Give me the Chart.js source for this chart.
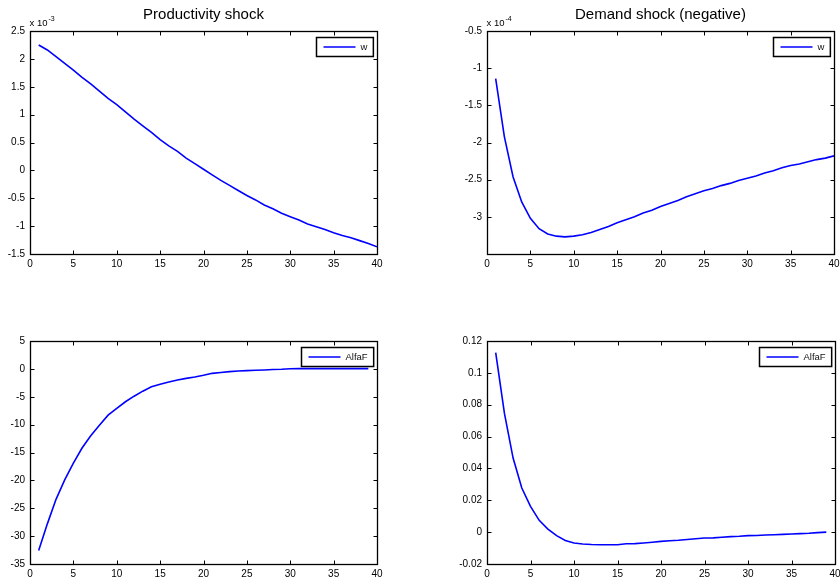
<!DOCTYPE html>
<html>
<head>
<meta charset="utf-8">
<script src="https://cdn.jsdelivr.net/npm/chart.js@4/dist/chart.umd.min.js"></script>
<style>
  html, body { margin: 0; padding: 0; background: #fff; }
  body { width: 840px; height: 581px; position: relative; overflow: hidden; }
  canvas { position: absolute; }
</style>
</head>
<body>
<canvas id="prodW" width="420" height="290" style="left:0;top:0"></canvas>
<canvas id="demW" width="420" height="290" style="left:420px;top:0"></canvas>
<canvas id="prodAlfa" width="420" height="291" style="left:0;top:290px"></canvas>
<canvas id="demAlfa" width="420" height="291" style="left:420px;top:290px"></canvas>
<script>
// periods after the shock
const periods = Array.from({ length: 40 }, (_, i) => i + 1);

// w after a productivity shock (x 10^-3)
const prodW = [
  2.25, 2.16, 2.04, 1.92, 1.80, 1.67, 1.55, 1.42, 1.29, 1.18,
  1.05, 0.92, 0.80, 0.68, 0.55, 0.44, 0.34, 0.22, 0.12, 0.02,
  -0.08, -0.18, -0.27, -0.36, -0.45, -0.53, -0.62, -0.69, -0.77, -0.83,
  -0.89, -0.96, -1.01, -1.06, -1.12, -1.17, -1.21, -1.26, -1.31, -1.37
];

// w after a negative demand shock (x 10^-4)
const demW = [
  -1.14, -1.92, -2.46, -2.80, -3.02, -3.16, -3.23, -3.26, -3.27, -3.26,
  -3.24, -3.21, -3.17, -3.13, -3.08, -3.04, -3.00, -2.95, -2.91, -2.86,
  -2.82, -2.78, -2.73, -2.69, -2.65, -2.62, -2.58, -2.55, -2.51, -2.48,
  -2.45, -2.41, -2.38, -2.34, -2.31, -2.29, -2.26, -2.23, -2.21, -2.18
];

// AlfaF after a productivity shock (39 periods)
const prodAlfa = [
  -32.6, -27.8, -23.4, -19.9, -16.9, -14.2, -12.0, -10.1, -8.3, -7.1,
  -5.9, -4.9, -4.0, -3.2, -2.75, -2.35, -2.0, -1.7, -1.45, -1.15,
  -0.8, -0.65, -0.5, -0.38, -0.32, -0.25, -0.2, -0.12, -0.08, 0.03,
  0.05, 0.05, 0.05, 0.05, 0.05, 0.05, 0.05, 0.05, 0.05
];

// AlfaF after a negative demand shock (39 periods)
const demAlfa = [
  0.1127, 0.0747, 0.0465, 0.0277, 0.0162, 0.0074, 0.0019, -0.0022, -0.0052, -0.0068,
  -0.0074, -0.0078, -0.0079, -0.0079, -0.0079, -0.0073, -0.0072, -0.0068, -0.0063, -0.0058,
  -0.0054, -0.0051, -0.0046, -0.0041, -0.0037, -0.0036, -0.0032, -0.0028, -0.0026, -0.0022,
  -0.0021, -0.0018, -0.0016, -0.0014, -0.0012, -0.0009, -0.0007, -0.0003, 0.0
];

const xTicks = { min: 0, max: 40, step: 5 };

const TICK_FONT = { family: "'Liberation Sans', Arial, sans-serif", size: 10 };

// matlab style frame: box, inward ticks on all sides, exponent and legend
const matlabFrame = {
  id: "matlabFrame",
  afterDraw(chart, args, opts) {
    const { ctx, chartArea: a, scales } = chart;
    const x = scales.x, y = scales.y;
    const L = Math.round(a.left) + 0.5, R = Math.round(a.right) + 0.5;
    const T = Math.round(a.top) + 0.5, B = Math.round(a.bottom) + 0.5;
    ctx.save();
    ctx.strokeStyle = "#000";
    ctx.lineWidth = 1;
    ctx.beginPath();
    x.ticks.forEach(t => {
      const px = Math.round(x.getPixelForValue(t.value)) + 0.5;
      ctx.moveTo(px, B); ctx.lineTo(px, B - 4);
      ctx.moveTo(px, T); ctx.lineTo(px, T + 4);
    });
    y.ticks.forEach(t => {
      const py = Math.round(y.getPixelForValue(t.value)) + 0.5;
      ctx.moveTo(L, py); ctx.lineTo(L + 4, py);
      ctx.moveTo(R, py); ctx.lineTo(R - 4, py);
    });
    ctx.stroke();
    ctx.lineWidth = 1.3;
    ctx.strokeRect(L, T, R - L, B - T);

    // exponent label above the y axis
    if (opts.exponent) {
      ctx.fillStyle = "#000";
      ctx.textBaseline = "alphabetic";
      ctx.font = "9.5px 'Liberation Sans', Arial, sans-serif";
      ctx.fillText("x 10", L - 1, T - 6);
      const w = ctx.measureText("x 10").width;
      ctx.font = "7px 'Liberation Sans', Arial, sans-serif";
      ctx.fillText(opts.exponent, L + w, T - 11);
    }

    // legend box in the top right corner
    const label = chart.data.datasets[0].label;
    ctx.font = "9.5px 'Liberation Sans', Arial, sans-serif";
    const tw = ctx.measureText(label).width;
    const bw = 7 + 32 + 5 + tw + 6, bh = 19;
    const bx = Math.round(a.right - 4 - bw) + 0.5, by = Math.round(a.top + 6) + 0.5;
    ctx.fillStyle = "#fff";
    ctx.fillRect(bx, by, bw, bh);
    ctx.lineWidth = 1.5;
    ctx.strokeStyle = "#000";
    ctx.strokeRect(bx, by, bw, bh);
    ctx.beginPath();
    ctx.strokeStyle = chart.data.datasets[0].borderColor;
    ctx.lineWidth = 1.5;
    ctx.moveTo(bx + 7, by + bh / 2);
    ctx.lineTo(bx + 39, by + bh / 2);
    ctx.stroke();
    ctx.fillStyle = "#111";
    ctx.textBaseline = "middle";
    ctx.fillText(label, bx + 44, by + bh / 2 + 0.5);
    ctx.restore();
  }
};

function fmt(v) {
  return parseFloat(v.toFixed(6)).toString();
}

function makeChart(id, title, label, values, yRange, layout) {
  const data = values.map((v, i) => ({ x: periods[i], y: v }));
  return new Chart(document.getElementById(id), {
    type: "line",
    data: {
      datasets: [{
        label,
        data,
        borderColor: "#0000ff",
        borderWidth: 1.6,
        pointRadius: 0,
        tension: 0,
        fill: false
      }]
    },
    options: {
      responsive: false,
      animation: false,
      devicePixelRatio: 1,
      layout: { padding: layout.padding },
      plugins: {
        legend: { display: false },
        tooltip: { enabled: false },
        title: {
          display: !!title,
          text: title,
          fullSize: false,
          color: "#000",
          font: { family: "'Liberation Sans', Arial, sans-serif", size: 15, weight: "normal" },
          padding: { top: 6, bottom: 7 }
        },
        matlabFrame: { exponent: layout.exponent }
      },
      scales: {
        x: {
          type: "linear",
          min: xTicks.min,
          max: xTicks.max,
          grid: { display: false, drawTicks: false },
          border: { display: false },
          ticks: { stepSize: xTicks.step, color: "#000", font: TICK_FONT, padding: 4, maxRotation: 0, callback: fmt },
          afterFit: s => { s.height = 16; s.paddingLeft = 0; s.paddingRight = 0; }
        },
        y: {
          min: yRange.min,
          max: yRange.max,
          grid: { display: false, drawTicks: false },
          border: { display: false },
          ticks: {
            stepSize: yRange.step,
            color: "#000",
            font: TICK_FONT,
            padding: 5,
            callback: v => (yRange.hide && yRange.hide.includes(v) ? "" : fmt(v))
          },
          afterFit: s => { s.width = layout.yWidth; s.paddingTop = 0; s.paddingBottom = 0; }
        }
      }
    },
    plugins: [matlabFrame]
  });
}

makeChart("prodW", "Productivity shock", "w", prodW,
  { min: -1.5, max: 2.5, step: 0.5 },
  { yWidth: 30, padding: { left: 0, right: 43, top: 0, bottom: 20 }, exponent: "-3" });

makeChart("demW", "Demand shock (negative)", "w", demW,
  { min: -3.5, max: -0.5, step: 0.5, hide: [-3.5] },
  { yWidth: 67, padding: { left: 0, right: 6, top: 0, bottom: 20 }, exponent: "-4" });

makeChart("prodAlfa", "", "AlfaF", prodAlfa,
  { min: -35, max: 5, step: 5 },
  { yWidth: 30, padding: { left: 0, right: 43, top: 51, bottom: 1 } });

makeChart("demAlfa", "", "AlfaF", demAlfa,
  { min: -0.02, max: 0.12, step: 0.02 },
  { yWidth: 67, padding: { left: 0, right: 5, top: 51, bottom: 1 } });
</script>
</body>
</html>
